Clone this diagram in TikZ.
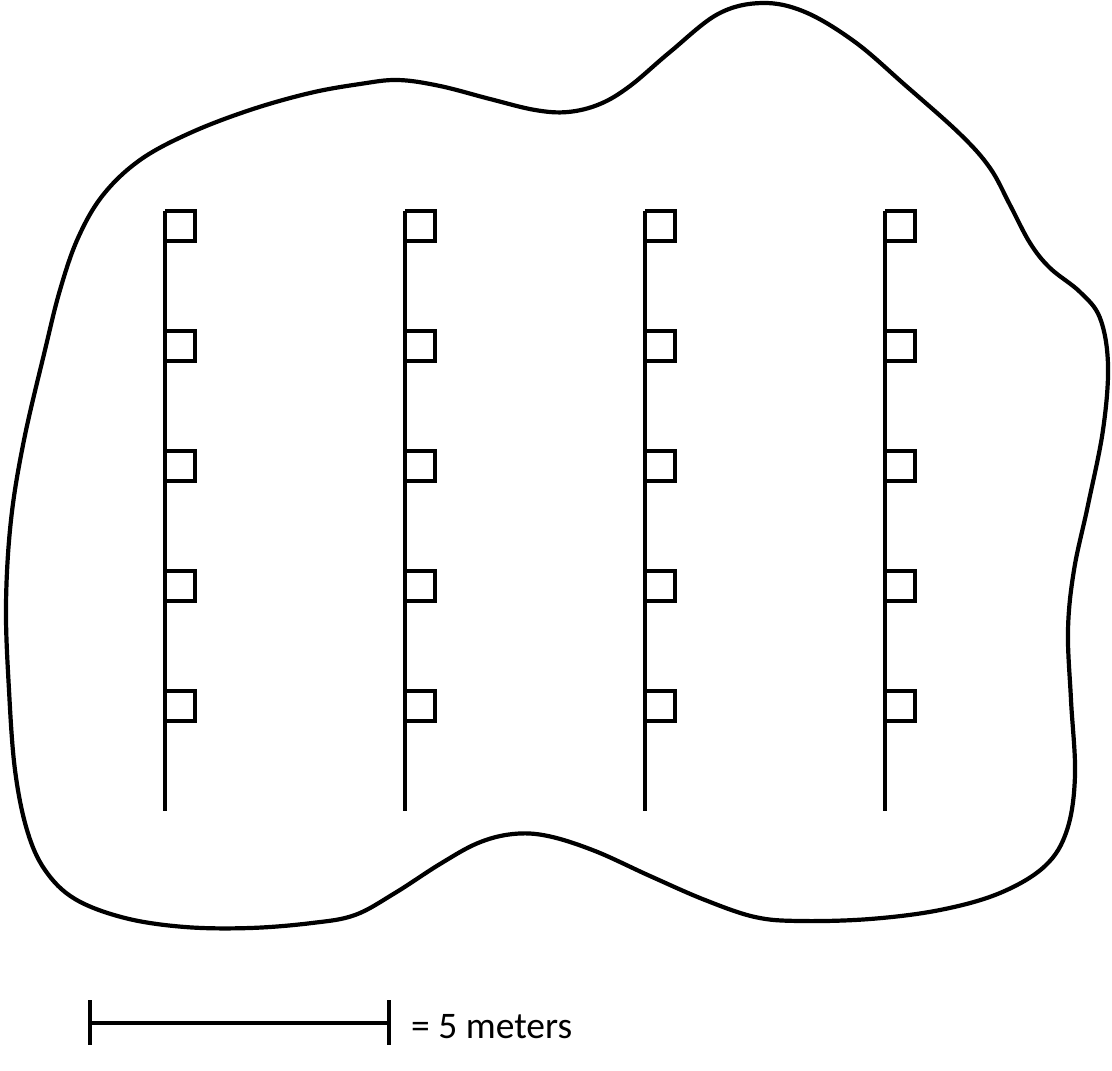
\documentclass[tikz,border=0pt]{standalone}
\usepackage{fontspec}
\setmainfont{Carlito}
\begin{document}
\begin{tikzpicture}[x=1pt,y=-1pt,
  outline/.style={line width=4.2pt,line join=round},
  pole/.style={line width=3.4pt},
  flag/.style={line width=3.4pt,line join=miter},
  bar/.style={line width=3.4pt}]
\useasboundingbox (0,0) rectangle (1112,1071);
% field outline
\draw[outline] plot[smooth cycle,tension=0.6] coordinates {
 (45,350) (60,290) (78,238) (103,195) (140,160) (190,133) (250,110) (310,93) (360,84) (398,80)
 (440,86) (490,99) (535,110) (568,112) (600,104) (630,86) (670,52) (718,14) (762,3)
 (805,12) (855,42) (905,85) (960,134) (990,168) (1010,205) (1030,243) (1050,268) (1080,292)
 (1100,318) (1108,365) (1103,430) (1088,505) (1074,570) (1068,630) (1071,700) (1075,775)
 (1067,830) (1045,866) (1000,893) (940,910) (870,919) (800,921) (755,917) (705,900)
 (650,876) (595,851) (548,836) (513,834) (478,843) (440,864) (395,893) (355,915) (312,923)
 (250,928) (185,927) (125,918) (75,899) (45,870) (27,830) (15,770) (9,690) (6,605)
 (11,520) (24,440)
};
% poles with flags
\foreach \px [count=\i] in {165,405,645,885}{
  \draw[pole] (\px,211) -- (\px,811);
  \foreach \fy in {211,331,451,571,691}{
    \draw[flag] (\px,\fy) -- (\px+30,\fy) -- (\px+30,\fy+30) -- (\px,\fy+30);
  }
}
% scale bar
\coordinate (sbL) at (90,1023);
\coordinate (sbR) at (389,1023);
\draw[bar] (sbL) -- (sbR);
\draw[bar] (90,1000) -- (90,1045);
\draw[bar] (389,1000) -- (389,1045);
\node[anchor=west,inner sep=0pt,font=\fontsize{37.5}{37.5}\selectfont] (lbl) at (411,1027) {= 5 meters};
\end{tikzpicture}
\end{document}
